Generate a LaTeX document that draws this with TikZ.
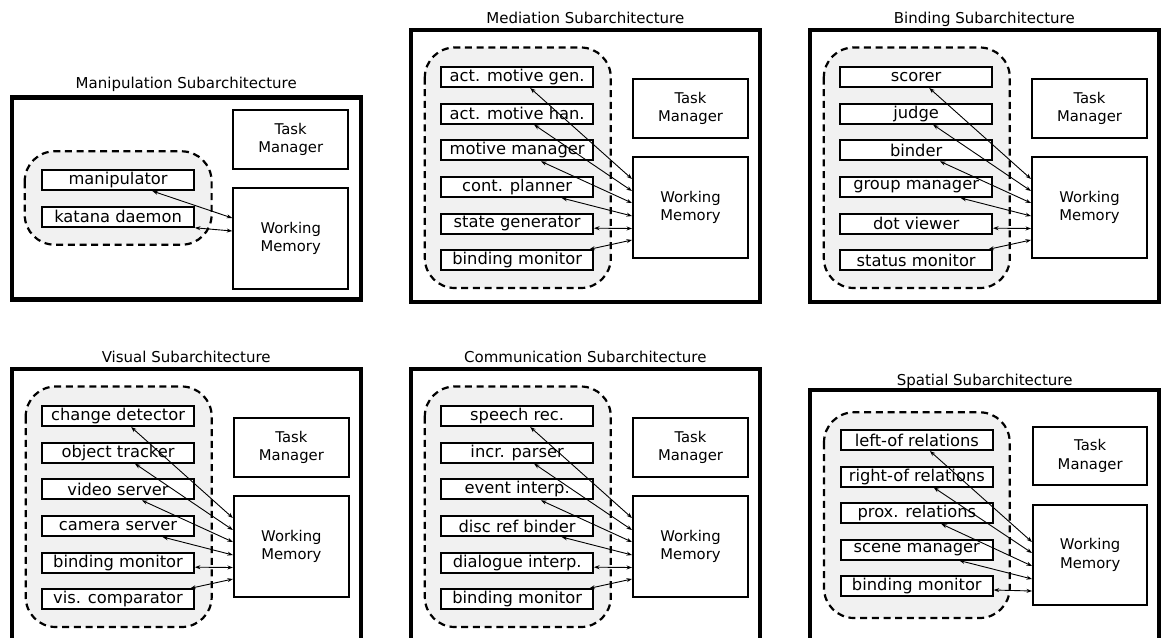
\documentclass[tikz,border=0pt]{standalone}
\usepackage{fontspec}
\setmainfont{DejaVu Sans}
\usetikzlibrary{arrows.meta,calc}
\definecolor{grp}{RGB}{241,241,241}
\newcommand\cmpfont{\fontsize{16.3}{19}\selectfont}
\newcommand\mgrfont{\fontsize{14.8}{18.5}\selectfont}
\newcommand\ttlfont{\fontsize{15}{18}\selectfont}
\tikzset{
  panel/.style={draw, line width=4.2pt},
  group/.style={draw, fill=grp, line width=2.2pt, dash pattern=on 7pt off 4.7pt, rounded corners=30pt},
  comp/.style={draw, fill=white, line width=2pt, minimum width=151.7pt, minimum height=20pt, inner sep=0pt, font=\cmpfont},
  mgr/.style={draw, fill=white, line width=2pt, minimum width=115pt, inner sep=0pt, align=center, font=\mgrfont},
  ttl/.style={anchor=base, font=\ttlfont, inner sep=0pt},
  link/.style={{Stealth[length=5.5pt,width=4pt]}-{Stealth[length=5.5pt,width=4pt]}, line width=0.9pt},
}
% #1 shift, #2 prefix, #3-#8 component labels, #9 title
\newcommand\sixpanel[9]{%
\begin{scope}[shift={(#1)}]
  \draw[panel] (0,0) rectangle (349,272);
  \node[ttl] (#2-title) at (174.5,-6.5) {#9};
  \draw[group] (14,17.5) rectangle (200,258);
  \node[comp] (#2-1) at (106.35,47) {#3};
  \node[comp] (#2-2) at (106.35,83.67) {#4};
  \node[comp] (#2-3) at (106.35,120.33) {#5};
  \node[comp] (#2-4) at (106.35,157) {#6};
  \node[comp] (#2-5) at (106.35,193.67) {#7};
  \node[comp] (#2-6) at (106.35,230.33) {#8};
  \node[mgr, minimum height=59.3pt] (#2-tm) at (279.7,78.35) {Task\\Manager};
  \node[mgr, minimum height=100.7pt] (#2-wm) at (279.7,177.65) {Working\\Memory};
  \draw[link] ($(#2-1.south west)!0.585!(#2-1.south east)$) -- ($(#2-wm.north west)+(0,22.7)$);
  \draw[link] ($(#2-2.south west)!0.61!(#2-2.south east)$) -- ($(#2-wm.north west)+(0,34.7)$);
  \draw[link] ($(#2-3.south west)!0.655!(#2-3.south east)$) -- ($(#2-wm.north west)+(0,46.7)$);
  \draw[link] ($(#2-4.south west)!0.79!(#2-4.south east)$) -- ($(#2-wm.north west)+(0,59.7)$);
  \draw[link] ($(#2-5.east)+(0,4.5)$) -- ($(#2-wm.north west)+(0,72.2)$);
  \draw[link] ($(#2-6.north west)!0.97!(#2-6.north east)$) -- ($(#2-wm.north west)+(0,83.7)$);
\end{scope}}

\begin{document}
\begin{tikzpicture}[x=1pt,y=-1pt]
\useasboundingbox (0,0) rectangle (1161,637);
\clip (0,0) rectangle (1161,637);

% Manipulation
\begin{scope}[shift={(11.7,97.5)}]
  \draw[panel] (0,0) rectangle (349.1,202);
  \node[ttl] (man-title) at (174.5,-9.2) {Manipulation Subarchitecture};
  \draw[group] (13,53.8) rectangle (199.9,147.2);
  \node[comp] (man-1) at (106.35,82.6) {manipulator};
  \node[comp] (man-2) at (106.35,119.3) {katana daemon};
  \node[mgr, minimum height=58.7pt] (man-tm) at (279,41.85) {Task\\Manager};
  \node[mgr, minimum height=101pt] (man-wm) at (279,141) {Working\\Memory};
  \draw[link] ($(man-1.south west)!0.724!(man-1.south east)$) -- ($(man-wm.north west)+(0,31)$);
  \draw[link] (man-2.south east) -- ($(man-wm.north west)+(0,44)$);
\end{scope}

\sixpanel{410.8,30}{med}{act. motive gen.}{act. motive han.}{motive manager}{cont. planner}{state generator}{binding monitor}{Mediation Subarchitecture}
\sixpanel{809.8,30}{bnd}{scorer}{judge}{binder}{group manager}{dot viewer}{status monitor}{Binding Subarchitecture}
\sixpanel{11.7,369}{vis}{change detector}{object tracker}{video server}{camera server}{binding monitor}{vis. comparator}{Visual Subarchitecture}
\sixpanel{410.8,369}{com}{speech rec.}{incr. parser}{event interp.}{disc ref binder}{dialogue interp.}{binding monitor}{Communication Subarchitecture}

% Spatial
\begin{scope}[shift={(809.8,390)}]
  \draw[panel] (0,0) rectangle (349.7,272);
  \node[ttl] (spa-title) at (174.85,-4.5) {Spatial Subarchitecture};
  \draw[group] (14.2,22.3) rectangle (199.9,228);
  \node[comp] (spa-1) at (107,50) {left-of relations};
  \node[comp] (spa-2) at (107,86.5) {right-of relations};
  \node[comp] (spa-3) at (107,123) {prox. relations};
  \node[comp] (spa-4) at (107,159.5) {scene manager};
  \node[comp] (spa-5) at (107,196) {binding monitor};
  \node[mgr, minimum height=58.6pt, minimum width=114.3pt] (spa-tm) at (280.35,66) {Task\\Manager};
  \node[mgr, minimum height=100.6pt, minimum width=114.3pt] (spa-wm) at (280.35,165) {Working\\Memory};
  \draw[link] ($(spa-1.south west)!0.585!(spa-1.south east)$) -- ($(spa-wm.north west)+(0,38.3)$);
  \draw[link] ($(spa-2.south west)!0.61!(spa-2.south east)$) -- ($(spa-wm.north west)+(0,49.3)$);
  \draw[link] ($(spa-3.south west)!0.66!(spa-3.south east)$) -- ($(spa-wm.north west)+(0,62.3)$);
  \draw[link] ($(spa-4.south west)!0.776!(spa-4.south east)$) -- ($(spa-wm.north west)+(0,75.3)$);
  \draw[link] ($(spa-5.east)+(0,4)$) -- ($(spa-wm.north west)+(0,87.3)$);
\end{scope}
\end{tikzpicture}
\end{document}
